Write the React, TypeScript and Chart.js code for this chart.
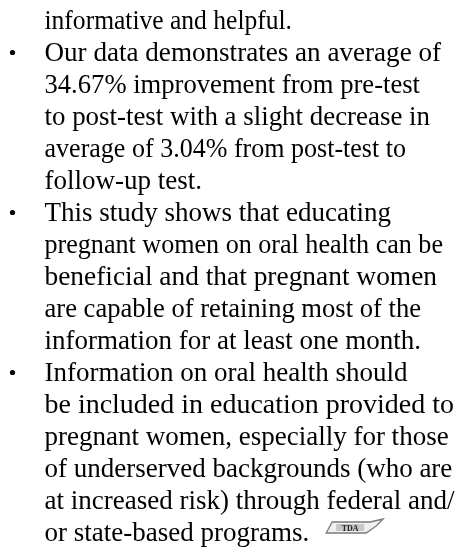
import React, { useEffect, useRef } from "react";
import { Chart, registerables } from "chart.js";

Chart.register(...registerables);

const textLines: string[] = [
  "informative and helpful.",
  "Our data demonstrates an average of",
  "34.67% improvement from pre-test",
  "to post-test with a slight decrease in",
  "average of 3.04% from post-test to",
  "follow-up test.",
  "This study shows that educating",
  "pregnant women on oral health can be",
  "beneficial and that pregnant women",
  "are capable of retaining most of the",
  "information for at least one month.",
  "Information on oral health should",
  "be included in education provided to",
  "pregnant women, especially for those",
  "of underserved backgrounds (who are",
  "at increased risk) through federal and/",
  "or state-based programs.",
];
const bulletLines: number[] = [1, 6, 11];
const logoLine = 16;
const logoLabel = "TDA";

// layout: right edge of typeset lines in the reference (px), null = natural width
const LINE_END: (number | null)[] = [
  292, 441, 420, 430, 406, null, null, 443, 437, 421, null, null, 454, null, null, null, null,
];
const TEXT_X = 44.5;
const FONT = '27px "Liberation Serif", "Times New Roman", serif';

export default function App() {
  const ref = useRef<HTMLCanvasElement | null>(null);
  useEffect(() => {
    if (!ref.current) return;
    const textPlugin = {
      id: "textLines",
      afterDraw(chart: any) {
        const ctx = chart.ctx;
        const y = chart.scales.y;
        const x = chart.scales.x;
        ctx.save();
        ctx.fillStyle = "#000";
        ctx.font = FONT;
        ctx.textBaseline = "alphabetic";
        ctx.textAlign = "left";
        let lastEnd = 0;
        textLines.forEach((t, i) => {
          const py = y.getPixelForValue(i);
          const x0 = x.getPixelForValue(TEXT_X);
          const natural = ctx.measureText(t).width;
          const end = LINE_END[i];
          const target = end == null ? natural : x.getPixelForValue(end) - x0;
          const s = target / natural;
          ctx.save();
          ctx.translate(x0, py);
          ctx.scale(s, 1);
          ctx.fillText(t, 0, 0);
          ctx.restore();
          lastEnd = x0 + target;
          if (bulletLines.includes(i)) {
            ctx.beginPath();
            ctx.arc(x.getPixelForValue(12.5), py - 8.5, 2.6, 0, Math.PI * 2);
            ctx.fill();
          }
        });
        // logo
        const ly = y.getPixelForValue(logoLine);
        const lx = lastEnd + 17;
        ctx.strokeStyle = "#7a7a7a";
        ctx.lineWidth = 1.3;
        ctx.beginPath();
        ctx.moveTo(lx, ly - 8);
        ctx.lineTo(lx + 6, ly - 19);
        ctx.lineTo(lx + 44, ly - 19);
        ctx.lineTo(lx + 57, ly - 22);
        ctx.lineTo(lx + 50, ly - 15);
        ctx.lineTo(lx + 40, ly - 8);
        ctx.closePath();
        ctx.fillStyle = "#f0f0f0";
        ctx.fill();
        ctx.stroke();
        ctx.fillStyle = "#c8c8c8";
        ctx.fillRect(lx + 10, ly - 17, 28, 7);
        ctx.fillStyle = "#222";
        ctx.font = 'bold 8px "Liberation Serif", serif';
        ctx.textAlign = "center";
        ctx.fillText(logoLabel, lx + 24, ly - 10.5);
        ctx.restore();
      },
    };
    const chart = new Chart(ref.current, {
      type: "scatter",
      data: {
        datasets: [
          {
            data: textLines.map((_, i) => ({ x: 0, y: i })),
            pointRadius: 0,
          },
        ],
      },
      options: {
        animation: false,
        responsive: false,
        maintainAspectRatio: false,
        layout: { padding: 0 },
        plugins: { legend: { display: false }, tooltip: { enabled: false } },
        events: [],
        scales: {
          x: { type: "linear", min: 0, max: 456, display: false },
          y: { type: "linear", reverse: true, min: -29 / 32, max: -29 / 32 + 548 / 32, display: false },
        },
      },
      plugins: [textPlugin],
    });
    return () => chart.destroy();
  }, []);
  return (
    <div style={{ position: "fixed", left: 0, top: 0, width: 456, height: 548, background: "#fff" }}>
      <canvas ref={ref} width={456} height={548} style={{ display: "block" }} />
    </div>
  );
}
